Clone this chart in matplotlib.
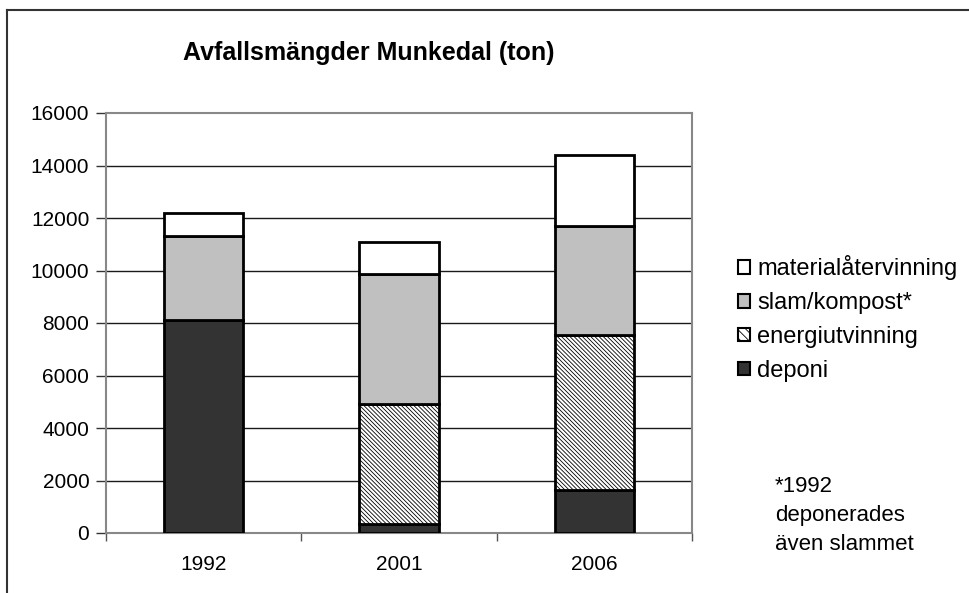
import matplotlib
matplotlib.use("Agg")
import matplotlib.pyplot as plt
from matplotlib.patches import Patch
from matplotlib.lines import Line2D
import numpy as np

plt.rcParams['font.family'] = ['Liberation Sans', 'DejaVu Sans']
plt.rcParams['hatch.linewidth'] = 0.6

years = ["1992", "2001", "2006"]
deponi = [8100, 350, 1650]
energiutvinning = [0, 4550, 5900]
slam_kompost = [3200, 4950, 4150]
materialatervinning = [900, 1250, 2700]

series_names = ["deponi", "energiutvinning", "slam/kompost*", "materialåtervinning"]
series_values = [deponi, energiutvinning, slam_kompost, materialatervinning]
colors = ["#333333", "white", "#c0c0c0", "white"]
hatches = [None, "\\" * 8, None, None]

yticks = list(range(0, 16001, 2000))

fig = plt.figure(figsize=(9.69, 5.93), dpi=100)
ax = fig.add_axes([106/969, 1-533/593, (692-106)/969, (533-113)/593])

x = np.arange(len(years))
bottom = np.zeros(len(years))
handles = []
for name, vals, c, h in zip(series_names, series_values, colors, hatches):
    vals = np.array(vals, dtype=float)
    ax.bar(x, vals, bottom=bottom, width=0.405, color=c, edgecolor="black",
           linewidth=2.0, hatch=h, zorder=3)
    bottom += vals
    handles.append(Patch(facecolor=c, edgecolor="black", linewidth=1.5,
                         hatch=("\\" * 4 if h else None), label=name))

ax.set_xlim(-0.5, len(years) - 0.5)
ax.set_ylim(0, 16000)
ax.set_yticks(yticks)
ax.set_yticklabels([str(t) for t in yticks], fontsize=15)
ax.set_xticks(x)
ax.set_xticklabels(years, fontsize=15)
ax.set_xticks(np.arange(-0.5, len(years), 1.0), minor=True)
ax.tick_params(axis='x', which='major', length=0, pad=16)
ax.tick_params(axis='x', which='minor', length=6, color="#555555", width=1)
ax.tick_params(axis='y', length=7, color="#333333", width=1, pad=5)
for yt in yticks[1:-1]:
    ax.axhline(yt, color="#1a1a1a", linewidth=1.0, zorder=1)
for s in ax.spines.values():
    s.set_color("#888888")
    s.set_linewidth(1.5)

fig.text(369/969, 1-53/593, "Avfallsmängder Munkedal (ton)", fontsize=18,
         fontweight="bold", ha="center", va="center")

leg = fig.legend(handles=handles[::-1], loc="upper left",
                 bbox_to_anchor=(729/969, 1-246/593), frameon=False,
                 fontsize=17, handlelength=0.5, handleheight=0.5,
                 handletextpad=0.3, labelspacing=0.5, borderaxespad=0)

fig.text(775/969, 1-476/593, "*1992\ndeponerades\näven slammet", fontsize=16,
         ha="left", va="top", linespacing=1.5)

# outer frame
fig.add_artist(Line2D([7/969, 1.0], [1-10/593, 1-10/593], color="#333333", linewidth=1.5,
                      transform=fig.transFigure))
fig.add_artist(Line2D([7/969, 7/969], [0.0, 1-10/593], color="#333333", linewidth=1.5,
                      transform=fig.transFigure))

fig.savefig("out.png", dpi=100)
